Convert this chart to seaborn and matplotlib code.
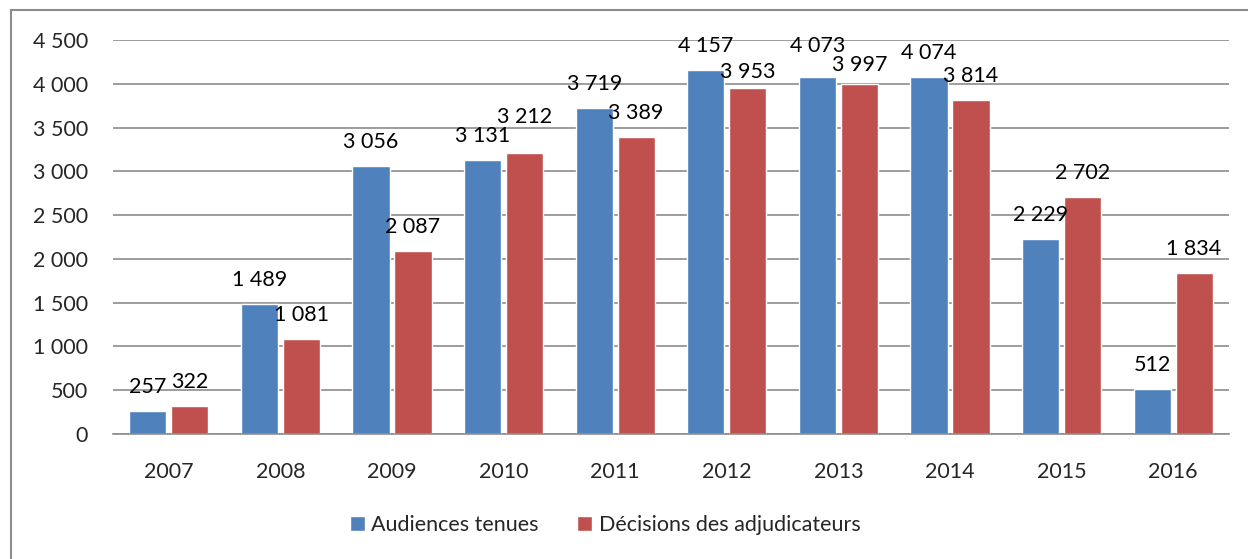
import matplotlib
matplotlib.use("Agg")
import matplotlib.pyplot as plt
import seaborn as sns
import pandas as pd
from matplotlib.patches import Rectangle

years = ["2007", "2008", "2009", "2010", "2011", "2012", "2013", "2014", "2015", "2016"]
audiences = [257, 1489, 3056, 3131, 3719, 4157, 4073, 4074, 2229, 512]
decisions = [322, 1081, 2087, 3212, 3389, 3953, 3997, 3814, 2702, 1834]
series_names = ["Audiences tenues", "Décisions des adjudicateurs"]
y_ticks = [0, 500, 1000, 1500, 2000, 2500, 3000, 3500, 4000, 4500]

# extra vertical shift (pixels) for labels that would otherwise collide
label_nudge = {
    (1, "2010"): 12,
    (1, "2012"): -8,
    (0, "2013"): 7,
    (1, "2013"): -5,
}


def fmt(v):
    """Thousands separated by a space, French style."""
    return f"{int(v):,}".replace(",", " ")


df = pd.DataFrame({
    "year": years * 2,
    "value": audiences + decisions,
    "series": [series_names[0]] * len(years) + [series_names[1]] * len(years),
})

sns.set_theme(style="white")
plt.rcParams["font.family"] = ["Lato", "DejaVu Sans"]
FS = 15.5
DPI = 100

fig = plt.figure(figsize=(12.48, 5.59), dpi=DPI)
ax = fig.add_axes([113 / 1248, 1 - 434 / 559, (1229 - 113) / 1248, (434 - 40) / 559])

sns.barplot(data=df, x="year", y="value", hue="series",
            palette=["#4F81BD", "#C0504D"], width=0.75, gap=0.11,
            saturation=1, ax=ax, legend=True)

ax.set_ylim(0, 4500)
ax.set_yticks(y_ticks)
ax.set_yticklabels([fmt(v) for v in y_ticks], fontsize=FS)
ax.tick_params(axis="x", labelsize=FS, length=0, pad=20)
ax.tick_params(axis="y", length=0, pad=18)
ax.yaxis.grid(True, color="#8c8c8c", linewidth=1.2)
ax.set_axisbelow(True)
for s in ["top", "right", "left"]:
    ax.spines[s].set_visible(False)
ax.spines["bottom"].set_color("#8c8c8c")
ax.spines["bottom"].set_linewidth(1.2)
ax.set_xlabel("")
ax.set_ylabel("")

# value labels above each bar, baseline about 18 px above the bar top
for si, container in enumerate(ax.containers):
    for year, bar, val in zip(years, container.patches, container.datavalues):
        shift_px = 18 + label_nudge.get((si, year), 0)
        ax.annotate(fmt(val),
                    xy=(bar.get_x() + bar.get_width() / 2, bar.get_height()),
                    xytext=(0, shift_px * 72 / DPI), textcoords="offset points",
                    ha="center", va="baseline", fontsize=FS, color="black")

handles, labels = ax.get_legend_handles_labels()
ax.legend(handles, labels, loc="center", bbox_to_anchor=(0.441, -0.231),
          ncol=2, frameon=False, fontsize=FS, handlelength=0.7, handleheight=0.7,
          handletextpad=0.3, columnspacing=1.8)

# chart frame
fig.patches.append(Rectangle((11 / 1248, -0.1), 1.2, 1 - 10 / 559 + 0.1,
                             transform=fig.transFigure, fill=False,
                             edgecolor="#8c8c8c", linewidth=1.5))

fig.savefig("out.png", dpi=DPI)
